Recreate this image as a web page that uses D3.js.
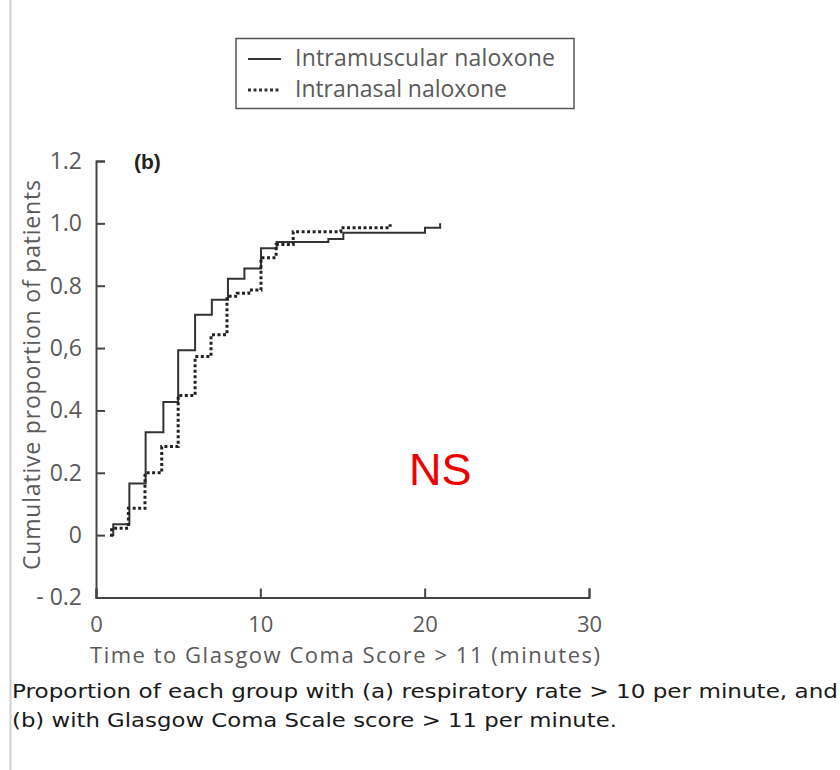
<!DOCTYPE html>
<html>
<head>
<meta charset="utf-8">
<script src="https://cdn.jsdelivr.net/npm/d3@7"></script>
<style>
  body { margin: 0; background: #fff; }
</style>
</head>
<body>
<svg id="plot"></svg>
<script>
// Data (time in minutes, cumulative proportion)
const imTime = [0.95, 1.05, 2.03, 3.02, 4.1, 5.0, 6.03, 7.05, 8.03, 9.03, 10.04, 10.99, 14.14, 15.05, 20.02, 20.94];
const imProp = [0, 0.035, 0.166, 0.33, 0.427, 0.593, 0.707, 0.755, 0.822, 0.855, 0.92, 0.94, 0.95, 0.97, 0.986, 1.0];

const inTime = [0.85, 0.95, 1.97, 2.98, 4.0, 5.0, 6.03, 7.0, 7.97, 8.6, 9.3, 10.04, 10.96, 12.0, 14.9, 17.9];
const inProp = [0, 0.022, 0.086, 0.2, 0.284, 0.448, 0.573, 0.643, 0.766, 0.776, 0.786, 0.89, 0.932, 0.973, 0.986, 0.997];

const xTicks = [0, 10, 20, 30];
const yTicks = [-0.2, 0, 0.2, 0.4, 0.6, 0.8, 1.0, 1.2];
const yTickLabels = ["- 0.2", "0", "0.2", "0.4", "0,6", "0.8", "1.0", "1.2"];

const seriesNames = ["Intramuscular naloxone", "Intranasal naloxone"];

const W = 840, H = 770;
const font = "'Open Sans', 'Liberation Sans', sans-serif";
const svg = d3.select("#plot")
    .attr("width", W)
    .attr("height", H)
    .style("font-family", font);

// page border line on the left
svg.append("line")
    .attr("x1", 10.5).attr("x2", 10.5)
    .attr("y1", 0).attr("y2", H)
    .attr("stroke", "#d0d0d0")
    .attr("stroke-width", 2);

// Scales
const x = d3.scaleLinear().domain([0, 30]).range([96, 589]);
const y = d3.scaleLinear().domain([-0.2, 1.2]).range([597.5, 161]);

const axisColor = "#444";
const textColor = "#5a5a5a";

// y axis
const yAxis = svg.append("g")
    .attr("transform", "translate(" + x(0) + ",0)")
    .call(d3.axisLeft(y)
        .tickValues(yTicks)
        .tickSize(-9)
        .tickPadding(14)
        .tickFormat((d, i) => yTickLabels[i]));

// x axis
const xAxis = svg.append("g")
    .attr("transform", "translate(0," + y(-0.2) + ")")
    .call(d3.axisBottom(x)
        .tickValues(xTicks)
        .tickSize(-9)
        .tickPadding(19)
        .tickFormat(d3.format("d")));

[xAxis, yAxis].forEach(g => {
  g.select(".domain").attr("stroke", axisColor).attr("stroke-width", 2);
  g.selectAll(".tick line").attr("stroke", axisColor).attr("stroke-width", 2);
  g.selectAll(".tick text")
      .attr("fill", textColor)
      .style("font-size", "23px")
      .style("font-family", font);
});
xAxis.selectAll(".tick text").style("font-size", "22px");

// Axis titles
svg.append("text")
    .attr("x", 345)
    .attr("y", 663)
    .attr("text-anchor", "middle")
    .attr("fill", textColor)
    .attr("textLength", 510)
    .style("font-size", "22px")
    .text("Time to Glasgow Coma Score > 11 (minutes)");

svg.append("text")
    .attr("transform", "translate(40,375) rotate(-90)")
    .attr("text-anchor", "middle")
    .attr("fill", textColor)
    .attr("textLength", 390)
    .style("font-size", "23px")
    .text("Cumulative proportion of patients");

// Panel letter
svg.append("text")
    .attr("x", 134)
    .attr("y", 169)
    .attr("fill", "#222")
    .style("font-family", "'Liberation Sans', Arial, sans-serif")
    .style("font-size", "21px")
    .style("font-weight", "bold")
    .text("(b)");

// Step lines
const line = d3.line()
    .x(d => x(d[0]))
    .y(d => y(d[1]))
    .curve(d3.curveStepAfter);

const imData = imTime.map((t, i) => [t, imProp[i]]);
const inData = inTime.map((t, i) => [t, inProp[i]]);

svg.append("path")
    .datum(imData)
    .attr("fill", "none")
    .attr("stroke", "#333")
    .attr("stroke-width", 2)
    .attr("d", line);

svg.append("path")
    .datum(inData)
    .attr("fill", "none")
    .attr("stroke", "#222")
    .attr("stroke-width", 3)
    .attr("stroke-dasharray", "3,2.5")
    .attr("d", line);

// NS label
svg.append("text")
    .attr("x", 409)
    .attr("y", 485)
    .attr("fill", "#ee0000")
    .style("font-family", "'Liberation Sans', Arial, sans-serif")
    .style("font-size", "45px")
    .text("NS");

// Legend
const legend = svg.append("g");
legend.append("rect")
    .attr("x", 236).attr("y", 38.5)
    .attr("width", 338).attr("height", 70)
    .attr("fill", "none")
    .attr("stroke", "#555")
    .attr("stroke-width", 1.5);

const legendY = [59, 90];
const legendBase = [66, 97];
const legendLen = [260, 212];
legend.selectAll(".swatch")
    .data(seriesNames)
    .enter().append("line")
    .attr("class", "swatch")
    .attr("x1", 248).attr("x2", 281)
    .attr("y1", (d, i) => legendY[i])
    .attr("y2", (d, i) => legendY[i])
    .attr("stroke", "#333")
    .attr("stroke-width", (d, i) => i === 0 ? 2 : 3)
    .attr("stroke-dasharray", (d, i) => i === 0 ? null : "3,2.5");

legend.selectAll(".ltext")
    .data(seriesNames)
    .enter().append("text")
    .attr("class", "ltext")
    .attr("x", 295)
    .attr("y", (d, i) => legendBase[i])
    .attr("textLength", (d, i) => legendLen[i])
    .attr("fill", textColor)
    .style("font-size", "23px")
    .text(d => d);

// Caption under the figure
const caption = [
  "Proportion of each group with (a) respiratory rate > 10 per minute, and",
  "(b) with Glasgow Coma Scale score > 11 per minute."
];
const captionLen = [826, 605];
svg.selectAll(".caption")
    .data(caption)
    .enter().append("text")
    .attr("class", "caption")
    .attr("x", 12)
    .attr("y", (d, i) => 698 + i * 29)
    .attr("textLength", (d, i) => captionLen[i])
    .attr("lengthAdjust", "spacingAndGlyphs")
    .attr("fill", "#1a1a1a")
    .style("font-family", "'DejaVu Sans', Verdana, sans-serif")
    .style("font-size", "20px")
    .text(d => d);
</script>
</body>
</html>
